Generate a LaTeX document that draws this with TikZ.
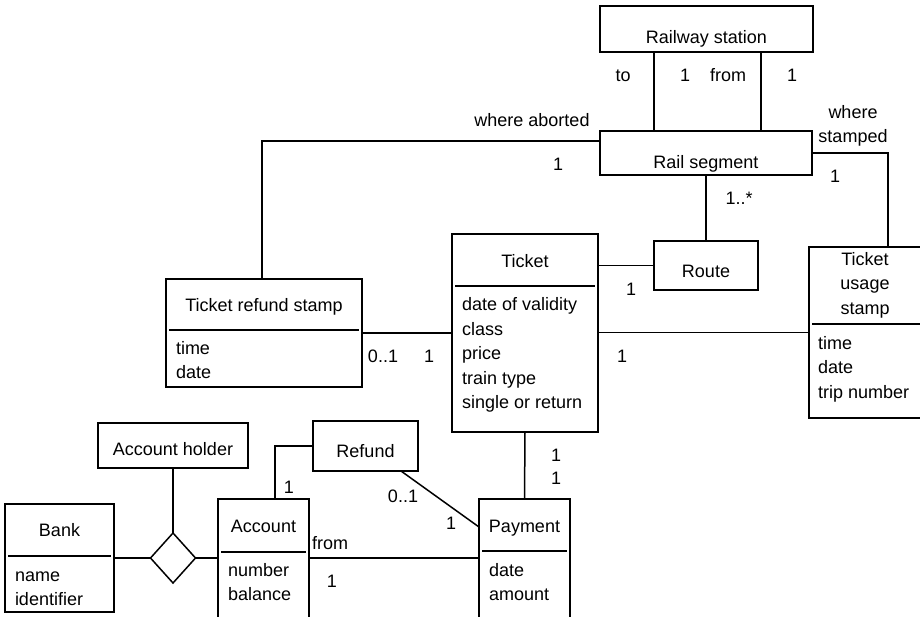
\documentclass[tikz,border=0pt]{standalone}
\usepackage{fontspec}
\setmainfont{Liberation Sans}
\usetikzlibrary{shapes.geometric}

\tikzset{
  box/.style={draw, line width=1.5pt, rectangle, inner sep=0pt, outer sep=0pt},
  rel/.style={draw, line width=1.5pt, diamond, inner sep=0pt, outer sep=0pt,
              minimum width=45pt, minimum height=50pt},
  link/.style={line width=1.5pt},
  divider/.style={line width=1.5pt},
  txt/.style={inner sep=0pt, outer sep=0pt, anchor=base,
              font=\fontsize{18}{22}\selectfont},
  attr/.style={txt, anchor=base west},
}

\begin{document}
\begin{tikzpicture}[x=1pt, y=-1pt]
\useasboundingbox (0,0) rectangle (920,616);
\clip (0,0) rectangle (920,616);
\fill[white] (0,0) rectangle (920,616);

% ---------- classes ----------
\node[box, minimum width=213pt, minimum height=46pt] (station) at (706.5,29) {};
\node[txt] (stationT) at (706.5,43) {Railway station};

\node[box, minimum width=212pt, minimum height=44pt] (segment) at (706,153) {};
\node[txt] (segmentT) at (706,168) {Rail segment};

\node[box, minimum width=196pt, minimum height=108pt] (refstamp) at (264,333) {};
\node[txt] (refstampT) at (264,311) {Ticket refund stamp};
\draw[divider] ([xshift=3pt]refstamp.west |- 0,330) -- ([xshift=-3pt]refstamp.east |- 0,330);
\node[attr] (refstampA) at (176,354) {time};
\node[attr] (refstampB) at (176,378.5) {date};

\node[box, minimum width=146pt, minimum height=198pt] (ticket) at (525,333) {};
\node[txt] (ticketT) at (525,267) {Ticket};
\draw[divider] ([xshift=3pt]ticket.west |- 0,286) -- ([xshift=-3pt]ticket.east |- 0,286);
\node[attr] (ticketA) at (462,310.5) {date of validity};
\node[attr] (ticketB) at (462,335) {class};
\node[attr] (ticketC) at (462,359.5) {price};
\node[attr] (ticketD) at (462,384) {train type};
\node[attr] (ticketE) at (462,408.5) {single or return};

\node[box, minimum width=104pt, minimum height=49pt] (route) at (706,265.5) {};
\node[txt] (routeT) at (706,277) {Route};

\node[box, minimum width=121pt, minimum height=171pt] (usage) at (869.5,332.5) {};
\node[txt] (usageT1) at (865,265) {Ticket};
\node[txt] (usageT2) at (865,289.5) {usage};
\node[txt] (usageT3) at (865,314) {stamp};
\draw[divider] ([xshift=3pt]usage.west |- 0,324) -- ([xshift=-3pt]usage.east |- 0,324);
\node[attr] (usageA) at (818,349) {time};
\node[attr] (usageB) at (818,373.5) {date};
\node[attr] (usageC) at (818,398) {trip number};

\node[box, minimum width=150pt, minimum height=45pt] (holder) at (173,445.5) {};
\node[txt] (holderT) at (173,455) {Account holder};

\node[box, minimum width=109pt, minimum height=108pt] (bank) at (59.5,558) {};
\node[txt] (bankT) at (59.5,536) {Bank};
\draw[divider] ([xshift=3pt]bank.west |- 0,556) -- ([xshift=-3pt]bank.east |- 0,556);
\node[attr] (bankA) at (15,581) {name};
\node[attr] (bankB) at (15,605.5) {identifier};

\node[box, minimum width=91pt, minimum height=131pt] (account) at (263.5,564.5) {};
\node[txt] (accountT) at (263.5,532) {Account};
\draw[divider] ([xshift=3pt]account.west |- 0,552) -- ([xshift=-3pt]account.east |- 0,552);
\node[attr] (accountA) at (228,576) {number};
\node[attr] (accountB) at (228,600.5) {balance};

\node[box, minimum width=105pt, minimum height=50pt] (refund) at (365.5,446) {};
\node[txt] (refundT) at (365.5,457) {Refund};

\node[box, minimum width=91pt, minimum height=131pt] (payment) at (524.5,564.5) {};
\node[txt] (paymentT) at (524.5,532) {Payment};
\draw[divider] ([xshift=3pt]payment.west |- 0,551) -- ([xshift=-3pt]payment.east |- 0,551);
\node[attr] (paymentA) at (489,576) {date};
\node[attr] (paymentB) at (489,600.5) {amount};

\node[rel] (holds) at (173,558) {};

% ---------- associations ----------
\coordinate (toFoot) at (654,0);
\coordinate (fromFoot) at (761,0);
\draw[link] (station.south -| toFoot) -- (segment.north -| toFoot);
\draw[link] (station.south -| fromFoot) -- (segment.north -| fromFoot);

\coordinate (abortRow) at (0,141);
\coordinate (abortCol) at (262,0);
\draw[link] (segment.west |- abortRow) -| (refstamp.north -| abortCol);

\coordinate (stampRow) at (0,153);
\coordinate (stampCol) at (888,0);
\draw[link] (segment.east |- stampRow) -| (usage.north -| stampCol);

\draw[link] (segment.south) -- (route.north);
\draw[link] (route.west) -- (route.west -| ticket.east);
\draw[link] (refstamp.east) -- (refstamp.east -| ticket.west);
\draw[link] (usage.west) -- (usage.west -| ticket.east);
\draw[link] (ticket.south) -- (payment.north);

\coordinate (refundFoot) at (401,471);
\coordinate (paymentHead) at (479,527);
\draw[link] (refundFoot) -- (paymentHead);

\coordinate (accCol) at (275,0);
\draw[link] (refund.west) -| (account.north -| accCol);

\coordinate (payRow) at (0,558);
\draw[link] (account.east |- payRow) -- (payment.west |- payRow);

\draw[link] (bank.east) -- (holds.west);
\draw[link] (holds.east) -- (account.west |- holds.east);
\draw[link] (holder.south) -- (holds.north);

% ---------- role names and multiplicities ----------
\node[txt] (mTo) at (623,81) {to};
\node[txt] (mTo1) at (685,81) {1};
\node[txt] (mFrom) at (728,81) {from};
\node[txt] (mFrom1) at (792,81) {1};
\node[txt] (mAbort) at (532,126) {where aborted};
\node[txt] (mAbort1) at (558,170) {1};
\node[txt] (mWhere) at (853,118) {where};
\node[txt] (mStamped) at (853,142) {stamped};
\node[txt] (mStamped1) at (835,182) {1};
\node[txt] (mRoute) at (739,204) {1..*};
\node[txt] (mRoute1) at (631,295) {1};
\node[txt] (mRef01) at (383,362) {0..1};
\node[txt] (mRef1) at (429,362) {1};
\node[txt] (mUse1) at (622,362) {1};
\node[txt] (mPayA) at (556,461) {1};
\node[txt] (mPayB) at (556,484) {1};
\node[txt] (mRefund01) at (403,502) {0..1};
\node[txt] (mRefund1) at (451,529) {1};
\node[txt] (mAcc1) at (289,493) {1};
\node[attr] (mFromAcc) at (312,549) {from};
\node[txt] (mFromAcc1) at (332,587) {1};
\end{tikzpicture}
\end{document}
